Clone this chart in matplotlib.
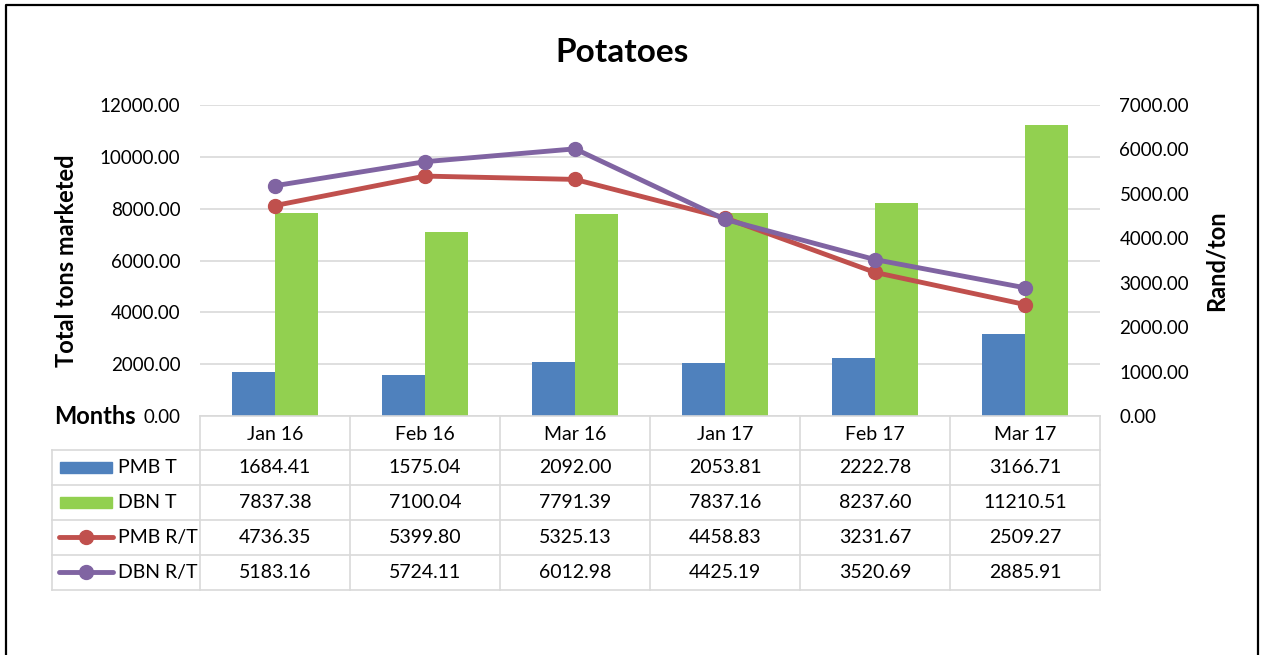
import numpy as np
import matplotlib.pyplot as plt
from matplotlib.patches import Rectangle
from matplotlib.lines import Line2D

plt.rcParams['font.family'] = ['Lato', 'DejaVu Sans']

# datos del grafico
months = ['Jan 16', 'Feb 16', 'Mar 16', 'Jan 17', 'Feb 17', 'Mar 17']
pmb_t = [1684.41, 1575.04, 2092.00, 2053.81, 2222.78, 3166.71]
dbn_t = [7837.38, 7100.04, 7791.39, 7837.16, 8237.60, 11210.51]
pmb_rt = [4736.35, 5399.80, 5325.13, 4458.83, 3231.67, 2509.27]
dbn_rt = [5183.16, 5724.11, 6012.98, 4425.19, 3520.69, 2885.91]
series_names = ['PMB T', 'DBN T', 'PMB R/T', 'DBN R/T']

blue = '#4F81BD'
green = '#92D050'
red = '#C0504D'
purple = '#8064A2'
grid = '#D9D9D9'

W, H = 1265, 655
fig = plt.figure(figsize=(W / 100, H / 100), dpi=100)

# area del grafico en pixeles
px_l, px_r, px_t, px_b = 200, 1100, 105, 416
ax = fig.add_axes([px_l / W, 1 - px_b / H, (px_r - px_l) / W, (px_b - px_t) / H])
x = np.arange(len(months))
bw = 0.287
ax.bar(x - bw / 2, pmb_t, bw, color=blue, zorder=2)
ax.bar(x + bw / 2, dbn_t, bw, color=green, zorder=2)
ax.set_xlim(-0.5, len(months) - 0.5)
ax.set_ylim(0, 12000)
ax.set_yticks(np.arange(0, 12001, 2000))
ax.set_yticklabels([f'{v:.2f}' for v in np.arange(0, 12001, 2000)], fontsize=13.5)
ax.set_xticks([])
ax.grid(axis='y', color=grid, linewidth=1.2, zorder=0)
ax.set_axisbelow(True)
for s in ax.spines.values():
    s.set_visible(False)
ax.tick_params(axis='y', length=0, pad=14)
ax.set_ylabel('Total tons marketed', fontsize=17, fontweight='bold', labelpad=16)

ax2 = ax.twinx()
ax2.plot(x, pmb_rt, color=red, linewidth=3.5, marker='o', markersize=10, zorder=3)
ax2.plot(x, dbn_rt, color=purple, linewidth=3.5, marker='o', markersize=10, zorder=3)
ax2.set_ylim(0, 7000)
ax2.set_yticks(np.arange(0, 7001, 1000))
ax2.set_yticklabels([f'{v:.2f}' for v in np.arange(0, 7001, 1000)], fontsize=13.5)
for s in ax2.spines.values():
    s.set_visible(False)
ax2.tick_params(axis='y', length=0, pad=14)
ax2.set_ylabel('Rand/ton', fontsize=17, fontweight='bold', labelpad=11)

# capa superior para la tabla de datos
ov = fig.add_axes([0, 0, 1, 1], zorder=5)
ov.set_xlim(0, W)
ov.set_ylim(H, 0)
ov.axis('off')
ov.patch.set_alpha(0)

fig.text(622 / W, 1 - 53 / H, 'Potatoes', fontsize=24, fontweight='bold', ha='center', va='center')
ov.text(54, 416, 'Months', fontsize=17, fontweight='bold', ha='left', va='center')

# borde exterior
ov.plot([6, 6, 1258, 1258], [H + 5, 5, 5, H + 5], color='black', linewidth=1.6, clip_on=False)

col_w = (px_r - px_l) / len(months)
row_h = 35
leg_l = 52
lw = 1.2

# cabecera
ov.plot([px_l, px_r], [416, 416], color=grid, linewidth=lw)
for i in range(len(months) + 1):
    ov.plot([px_l + i * col_w] * 2, [416, 590], color=grid, linewidth=lw)
for i, m in enumerate(months):
    ov.text(px_l + (i + 0.5) * col_w, 434, m, fontsize=14, ha='center', va='center')

# filas
for r in range(5):
    y = 450 + r * row_h
    ov.plot([leg_l, px_r], [y, y], color=grid, linewidth=lw)
ov.plot([leg_l, leg_l], [450, 590], color=grid, linewidth=lw)

rows = [pmb_t, dbn_t, pmb_rt, dbn_rt]
for r, vals in enumerate(rows):
    yc = 450 + (r + 0.5) * row_h
    for i, v in enumerate(vals):
        ov.text(px_l + (i + 0.5) * col_w, yc, f'{v:.2f}', fontsize=14, ha='center', va='center')
    ov.text(118, yc, series_names[r], fontsize=14, ha='left', va='center')

# claves de la leyenda
ov.add_patch(Rectangle((60, 462), 52, 11, color=blue))
ov.add_patch(Rectangle((60, 497), 52, 11, color=green))
for yc, c in [(537, red), (572, purple)]:
    ov.add_line(Line2D([59, 86, 113], [yc, yc, yc], color=c, linewidth=3.5,
                       marker='o', markevery=[1], markersize=10, solid_capstyle='round'))

fig.savefig('out.png', dpi=100)
